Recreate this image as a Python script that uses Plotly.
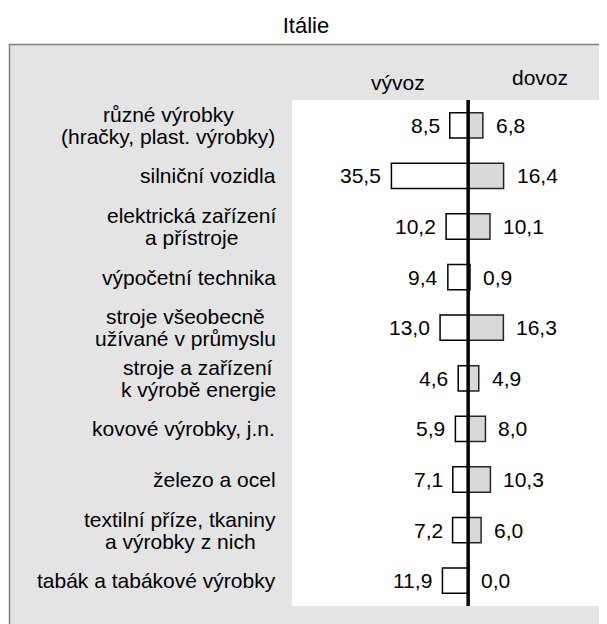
import plotly.graph_objects as go

# ---- data ----
categories = [
    "různé výrobky<br>(hračky, plast. výrobky)",
    "silniční vozidla",
    "elektrická zařízení<br>a přístroje",
    "výpočetní technika",
    "stroje všeobecně<br>užívané v průmyslu",
    "stroje a zařízení<br>k výrobě energie",
    "kovové výrobky, j.n.",
    "železo a ocel",
    "textilní příze, tkaniny<br>a výrobky z nich",
    "tabák a tabákové výrobky",
]
vyvoz = [8.5, 35.5, 10.2, 9.4, 13.0, 4.6, 5.9, 7.1, 7.2, 11.9]
dovoz = [6.8, 16.4, 10.1, 0.9, 16.3, 4.9, 8.0, 10.3, 6.0, 0.0]
title_text = "Itálie"
header_export = "vývoz"
header_import = "dovoz"


def fmt(v):
    return f"{v:.1f}".replace(".", ",")


# approximate Arial / Liberation Sans advance widths (per 1000 em)
_W = {c: 556 for c in "abdeghnopqu0123456789áéěůěň"}
_W.update({c: 500 for c in "ckvxyzsýčšžk"})
_W.update({"f": 278, "t": 278, "i": 222, "j": 222, "l": 222, "í": 278, "r": 333, "ř": 333,
           "m": 833, "w": 722, " ": 278, ",": 278, ".": 278, "(": 333, ")": 333})


def text_w(s, size):
    return sum(_W.get(ch, 556) for ch in s) * size / 1000.0


# page offset: the browser body adds 8px margin
OFF = 8
W, H = 607 - OFF, 624 - OFF
ML, MR, MT, MB = 292 - OFF, 7, 100 - OFF, 18
pw = W - ML - MR
ph = H - MT - MB
FONT = "Liberation Sans, Arial, sans-serif"
FS = 21
LS = 22  # line spacing of two-line category labels


def px_x(xref_px):
    return (xref_px - OFF - ML) / pw


def px_y(yref_px):
    return (H - MB - (yref_px - OFF)) / ph


fig = go.Figure()
fig.add_trace(go.Bar(
    y=categories, x=[-v for v in vyvoz], orientation="h",
    marker=dict(color="white", line=dict(color="black", width=1.5)),
    showlegend=False, hoverinfo="skip",
))
fig.add_trace(go.Bar(
    y=categories, x=dovoz, orientation="h",
    marker=dict(color="#d9d9d9", line=dict(color="#262626", width=1.5)),
    showlegend=False, hoverinfo="skip",
))

tfont = dict(size=FS, color="black", family=FONT)
annotations = []
LABEL_RIGHT = 276
for c, e, i in zip(categories, vyvoz, dovoz):
    annotations.append(dict(x=-e, y=c, xref="x", yref="y", text=fmt(e),
                            xanchor="right", yanchor="middle", xshift=-8,
                            showarrow=False, font=tfont))
    annotations.append(dict(x=i, y=c, xref="x", yref="y", text=fmt(i),
                            xanchor="left", yanchor="middle", xshift=11,
                            showarrow=False, font=tfont))
    lines = c.split("<br>")
    n = len(lines)
    wmax = max(text_w(l, FS) for l in lines)
    center_px = LABEL_RIGHT - wmax / 2
    for k, line in enumerate(lines):
        annotations.append(dict(x=px_x(center_px), y=c, xref="paper", yref="y",
                                text=line, xanchor="center", yanchor="middle",
                                yshift=((n - 1) / 2 - k) * LS,
                                showarrow=False, font=tfont))

annotations.append(dict(x=px_x(398), y=px_y(82), xref="paper", yref="paper",
                        text=header_export, showarrow=False, xanchor="center", yanchor="middle",
                        font=tfont))
annotations.append(dict(x=px_x(540), y=px_y(77), xref="paper", yref="paper",
                        text=header_import, showarrow=False, xanchor="center", yanchor="middle",
                        font=tfont))

shapes = [
    # grey panel
    dict(type="rect", xref="paper", yref="paper", layer="below",
         x0=px_x(9.5), x1=px_x(640), y0=px_y(660), y1=px_y(44.5),
         fillcolor="#e4e4e4", line=dict(color="#7f7f7f", width=1.5)),
    # white plot area
    dict(type="rect", xref="paper", yref="paper", layer="below",
         x0=0, x1=1, y0=0, y1=1, fillcolor="white", line=dict(width=0)),
    # central axis line
    dict(type="line", xref="x", yref="paper", layer="above",
         x0=0, x1=0, y0=0, y1=1, line=dict(color="black", width=3.5)),
]

fig.update_layout(
    width=W, height=H,
    margin=dict(l=ML, r=MR, t=MT, b=MB),
    paper_bgcolor="white", plot_bgcolor="white",
    barmode="overlay", bargap=0.5,
    title=dict(text=title_text, x=(306 - OFF) / W, xref="container", xanchor="center",
               y=1 - (25 - OFF) / H, yref="container", yanchor="middle",
               font=dict(size=FS + 1, color="black", family=FONT)),
    xaxis=dict(range=[-81.5, 61], showgrid=False, zeroline=False,
               showticklabels=False, ticks="", fixedrange=True),
    yaxis=dict(categoryorder="array", categoryarray=categories, autorange="reversed",
               showgrid=False, zeroline=False, showticklabels=False, ticks=""),
    annotations=annotations,
    shapes=shapes,
    font=dict(family=FONT, color="black"),
)

fig.write_html("out.html")
